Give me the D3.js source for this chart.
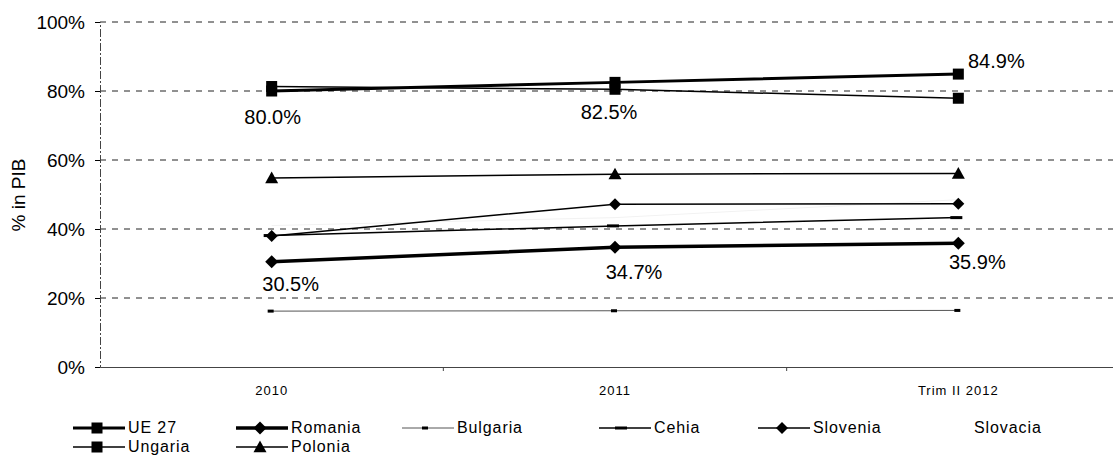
<!DOCTYPE html>
<html>
<head>
<meta charset="utf-8">
<script src="https://cdn.jsdelivr.net/npm/d3@7"></script>
<style>
body { margin: 0; background: #fff; }
svg { font-family: "Liberation Sans", Arial, sans-serif; }
</style>
</head>
<body>
<div id="chart"></div>
<script>
// categories and series (share of GDP)
var periods = ["2010", "2011", "Trim II 2012"];
var yTicks = [0, 0.2, 0.4, 0.6, 0.8, 1.0];

var ue27     = [0.800, 0.825, 0.849];
var romania  = [0.305, 0.347, 0.359];
var bulgaria = [0.162, 0.163, 0.164];
var cehia    = [0.381, 0.409, 0.433];
var slovenia = [0.380, 0.472, 0.473];
var slovacia = [0.410, 0.433, 0.485];
var ungaria  = [0.813, 0.805, 0.779];
var polonia  = [0.548, 0.559, 0.561];

var labelsUe = ["80.0%", "82.5%", "84.9%"];
var labelsRo = ["30.5%", "34.7%", "35.9%"];

var W = 1113, H = 457;
var margin = {top: 22, left: 100, bottom: 90};

var series = [
  {name: "UE 27",    values: ue27,     width: 3,   color: "#000", marker: "square",  size: 11},
  {name: "Romania",  values: romania,  width: 3.5, color: "#000", marker: "diamond", size: 13},
  {name: "Bulgaria", values: bulgaria, width: 1,   color: "#555", marker: "dash",    size: 4},
  {name: "Cehia",    values: cehia,    width: 1.5, color: "#000", marker: "dash",    size: 8},
  {name: "Slovenia", values: slovenia, width: 1.5, color: "#000", marker: "diamond", size: 12},
  {name: "Slovacia", values: slovacia, width: 1,   color: "#f2f2f2", marker: "none", size: 0},
  {name: "Ungaria",  values: ungaria,  width: 1.5, color: "#000", marker: "square",  size: 11},
  {name: "Polonia",  values: polonia,  width: 1.5, color: "#000", marker: "triangle", size: 13}
];

var svg = d3.select("#chart").append("svg")
    .attr("width", W)
    .attr("height", H);

var x = d3.scaleBand().domain(periods).range([margin.left, 1130]).padding(0);
var y = d3.scaleLinear().domain([0, 1]).range([367, margin.top]);
function cx(i) { return x(periods[i]) + x.bandwidth() / 2; }

// gridlines
svg.append("g").selectAll("line")
  .data(yTicks.filter(function(d) { return d > 0; }))
  .enter().append("line")
    .attr("x1", margin.left).attr("x2", W)
    .attr("y1", function(d) { return y(d); })
    .attr("y2", function(d) { return y(d); })
    .attr("stroke", "#222")
    .attr("stroke-width", 1)
    .attr("stroke-dasharray", "6,6");

// y axis
var yAxis = d3.axisLeft(y).tickValues(yTicks).tickFormat(d3.format(".0%")).tickSize(5);
var gy = svg.append("g").attr("transform", "translate(" + margin.left + ",0)").call(yAxis);
gy.select(".domain").attr("stroke", "#444").attr("stroke-dasharray", "8,2,2,2");
gy.selectAll("text").attr("font-size", 19).attr("fill", "#000").attr("x", -15);

// x axis
var xAxis = d3.axisBottom(x).tickSize(0);
var gx = svg.append("g").attr("transform", "translate(0," + y(0) + ")").call(xAxis);
gx.select(".domain").attr("stroke", "#444");
gx.selectAll("text").attr("font-size", 13).attr("fill", "#000").attr("dy", "1.9em")
  .style("letter-spacing", "1px");
gx.selectAll(".sep").data(x.domain().slice(1)).enter().append("line")
  .attr("x1", function(d) { return x(d); }).attr("x2", function(d) { return x(d); })
  .attr("y1", 0).attr("y2", 4).attr("stroke", "#444");

// y label
svg.append("text")
  .attr("transform", "translate(25," + 195 + ") rotate(-90)")
  .attr("text-anchor", "middle")
  .attr("font-size", 19)
  .text("% in PIB");

var line = d3.line()
  .x(function(d, i) { return cx(i); })
  .y(function(d) { return y(d); });

function drawMarker(g, type, size) {
  if (type === "square") {
    g.append("rect").attr("x", -size / 2).attr("y", -size / 2)
      .attr("width", size).attr("height", size).attr("fill", "#000");
  } else if (type === "diamond") {
    var s = size / 2;
    g.append("path").attr("d", "M0," + (-s) + "L" + s + ",0L0," + s + "L" + (-s) + ",0Z").attr("fill", "#000");
  } else if (type === "triangle") {
    var t = size / 2;
    g.append("path").attr("d", "M0," + (-t) + "L" + t + "," + (t * 0.8) + "L" + (-t) + "," + (t * 0.8) + "Z").attr("fill", "#000");
  } else if (type === "dash") {
    g.append("rect").attr("x", -size).attr("y", -1.5)
      .attr("width", size * 1.5).attr("height", 3).attr("fill", "#000");
  }
}

// draw series back to front
var drawOrder = series.slice().reverse();
drawOrder.forEach(function(s) {
  svg.append("path")
    .datum(s.values)
    .attr("fill", "none")
    .attr("stroke", s.color)
    .attr("stroke-width", s.width)
    .attr("d", line);
  if (s.marker !== "none") {
    s.values.forEach(function(v, i) {
      var g = svg.append("g").attr("transform", "translate(" + cx(i) + "," + y(v) + ")");
      drawMarker(g, s.marker, s.size);
    });
  }
});

// data labels
var lblUe = [{dx: 1, dy: 33}, {dx: -6, dy: 37}, {dx: 38, dy: -6}];
var lblRo = [{dx: 19, dy: 29}, {dx: 19, dy: 32}, {dx: 19, dy: 26}];
labelsUe.forEach(function(t, i) {
  svg.append("text").attr("x", cx(i) + lblUe[i].dx).attr("y", y(ue27[i]) + lblUe[i].dy)
    .attr("text-anchor", "middle").attr("font-size", 20).text(t);
});
labelsRo.forEach(function(t, i) {
  svg.append("text").attr("x", cx(i) + lblRo[i].dx).attr("y", y(romania[i]) + lblRo[i].dy)
    .attr("text-anchor", "middle").attr("font-size", 20).text(t);
});

// legend
var legendX = [73, 236, 402, 599, 758, 919, 73, 236];
var legendRow = [0, 0, 0, 0, 0, 0, 1, 1];
var legend = svg.selectAll(".legend")
  .data(series)
  .enter().append("g")
    .attr("class", "legend")
    .attr("transform", function(d, i) { return "translate(" + legendX[i] + "," + (428 + legendRow[i] * 19) + ")"; });

legend.append("line")
  .attr("x1", 0).attr("x2", 52).attr("y1", 0).attr("y2", 0)
  .attr("stroke", function(d) { return d.color === "#f2f2f2" ? "#fff" : d.color; })
  .attr("stroke-width", function(d) { return d.width; });

legend.each(function(d) {
  if (d.marker === "none") return;
  var g = d3.select(this).append("g").attr("transform", "translate(24,0)");
  drawMarker(g, d.marker, d.size);
});

legend.append("text")
  .attr("x", 55)
  .attr("y", 0)
  .attr("dy", ".33em")
  .attr("font-size", 16)
  .style("letter-spacing", "0.9px")
  .text(function(d) { return d.name; });
</script>
</body>
</html>
